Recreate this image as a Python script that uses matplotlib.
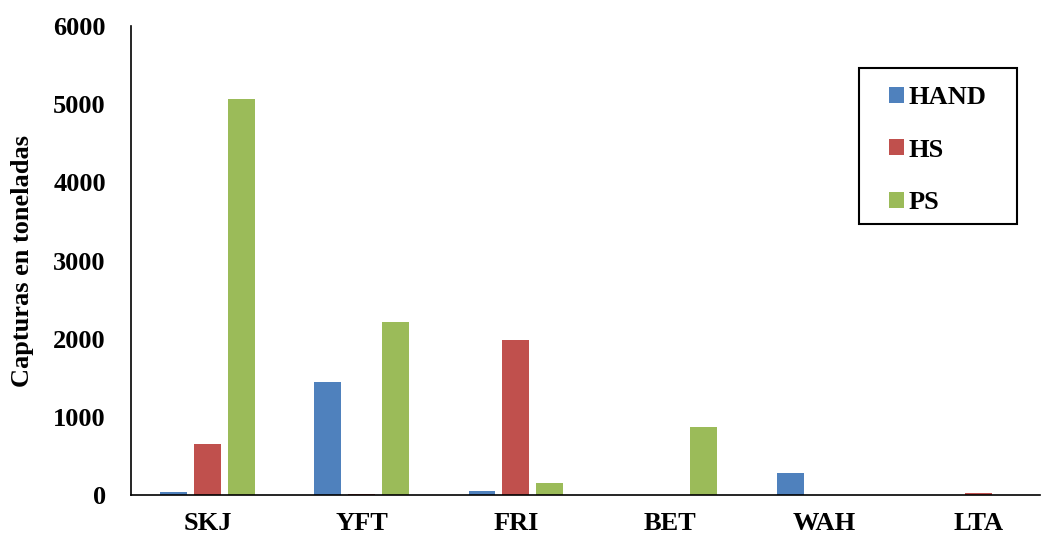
import numpy as np
import matplotlib.pyplot as plt
from matplotlib.patches import Rectangle

# datos
especies = ['SKJ', 'YFT', 'FRI', 'BET', 'WAH', 'LTA']
hand = [40, 1450, 55, 0, 280, 5]
hs = [650, 20, 1990, 0, 0, 30]
ps = [5060, 2210, 160, 870, 0, 0]

plt.rcParams['font.family'] = ['Liberation Serif', 'DejaVu Serif']
plt.rcParams['font.weight'] = 'bold'

fig = plt.figure(figsize=(10.46, 5.4), dpi=100)
ax = fig.add_axes([0.125, 0.083, 0.869, 0.869])

x = np.arange(len(especies))
w = 0.175
paso = 0.22
ax.bar(x - paso, hand, w, color='#4F81BD', label='HAND')
ax.bar(x, hs, w, color='#C0504D', label='HS')
ax.bar(x + paso, ps, w, color='#9BBB59', label='PS')

ax.set_xlim(-0.5, 5.4)
ax.set_ylim(0, 6000)
ax.set_yticks(range(0, 6001, 1000))
ax.set_xticks(x)
ax.set_xticklabels(especies, fontsize=19, fontweight='bold')
ax.tick_params(axis='y', labelsize=19, length=0, pad=18)
ax.tick_params(axis='x', length=0, pad=12)
for t in ax.get_yticklabels():
    t.set_fontweight('bold')
ax.set_ylabel('Capturas en toneladas', fontsize=19, fontweight='bold', labelpad=14)

ax.spines['top'].set_visible(False)
ax.spines['right'].set_visible(False)
ax.spines['left'].set_linewidth(1.2)
ax.spines['bottom'].set_linewidth(1.2)

# leyenda sin marco + marco dibujado aparte
leg = ax.legend(loc='upper left', bbox_to_anchor=(889 / 1046, 1 - 86 / 540),
                bbox_transform=fig.transFigure, fontsize=19, frameon=False,
                handlelength=0.55, handleheight=0.55, handletextpad=0.2,
                labelspacing=1.12, borderpad=0, borderaxespad=0)
for t in leg.get_texts():
    t.set_fontweight('bold')
fig.patches.append(Rectangle((859 / 1046, 1 - 224 / 540), 158 / 1046, 156 / 540,
                             transform=fig.transFigure, fill=False,
                             edgecolor='black', linewidth=1.5))

fig.savefig('out.png', dpi=100)
